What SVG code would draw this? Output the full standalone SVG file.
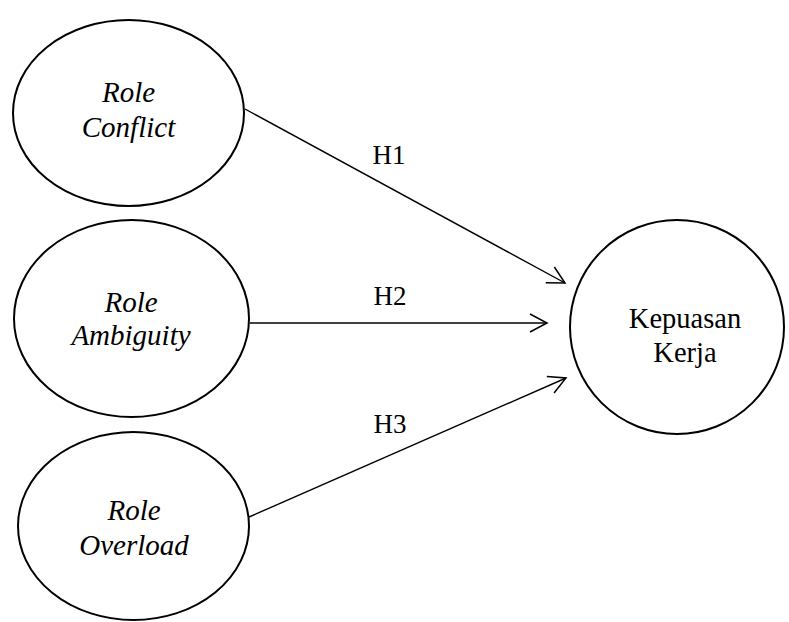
<svg xmlns="http://www.w3.org/2000/svg" width="789" height="622" viewBox="0 0 789 622">
<style>
.node{fill:#fff;stroke:#000;stroke-width:2}
.lbl{font-family:"Liberation Serif","Times New Roman",serif;font-size:28.5px;fill:#000;text-anchor:middle}
.h{font-size:27px}
.it{font-style:italic;font-size:29px}
.edge{stroke:#000;stroke-width:1.4;fill:none}
</style>
<defs>
<marker id="arr" markerUnits="userSpaceOnUse" markerWidth="40" markerHeight="40" refX="0" refY="0" viewBox="-20 -20 40 40" orient="auto" overflow="visible">
<path d="M-17,-9 L0,0 L-17,9" fill="none" stroke="#000" stroke-width="1.5"/>
</marker>
</defs>
<rect width="789" height="622" fill="#fff"/>
<g id="connectors">
<line class="edge" x1="245" y1="109" x2="565" y2="283" marker-end="url(#arr)"/>
<line class="edge" x1="250" y1="323" x2="547" y2="323" stroke-width="2" marker-end="url(#arr)"/>
<line class="edge" x1="249" y1="517" x2="566" y2="378" marker-end="url(#arr)"/>
<text class="lbl h" x="389" y="164">H1</text>
<text class="lbl h" x="390" y="305">H2</text>
<text class="lbl h" x="390" y="433">H3</text>
</g>
<g id="role-conflict">
<ellipse class="node" cx="128.5" cy="113" rx="115.5" ry="93"/>
<text class="lbl it" x="128.5" y="102">Role</text>
<text class="lbl it" x="128.5" y="137">Conflict</text>
</g>
<g id="role-ambiguity">
<ellipse class="node" cx="131.5" cy="318.5" rx="117.5" ry="98.5"/>
<text class="lbl it" x="131" y="312">Role</text>
<text class="lbl it" x="131" y="345">Ambiguity</text>
</g>
<g id="role-overload">
<ellipse class="node" cx="133.5" cy="526" rx="115.5" ry="94"/>
<text class="lbl it" x="134" y="520">Role</text>
<text class="lbl it" x="134" y="555">Overload</text>
</g>
<g id="kepuasan-kerja">
<circle class="node" cx="677" cy="327" r="107"/>
<text class="lbl" x="685" y="328">Kepuasan</text>
<text class="lbl" x="685" y="362">Kerja</text>
</g>
</svg>
